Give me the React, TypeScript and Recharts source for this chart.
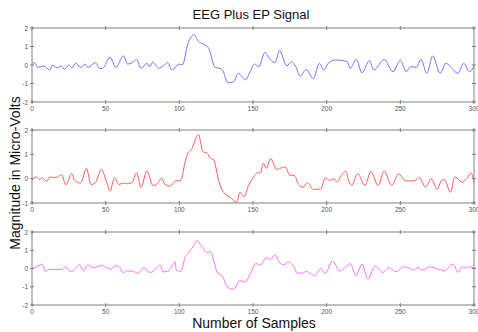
import React from 'react';
import { LineChart, Line, XAxis, YAxis } from 'recharts';

// sample positions and magnitudes
const blueX = [0, 2, 4, 8, 12, 14, 17, 20, 22, 25, 27, 30, 33, 36, 38, 43, 46, 48, 53, 57, 62, 65, 68, 71, 74, 78, 80, 82, 86, 89, 92, 95, 100, 102, 106, 110, 113, 116, 120, 124, 129, 133, 137, 140, 145, 148, 151, 154, 158, 162, 165, 168, 173, 176, 179, 182, 186, 191, 195, 198, 201, 206, 214, 216, 220, 224, 229, 232, 239, 245, 250, 254, 257, 261, 264, 268, 272, 277, 281, 284, 289, 293, 297, 300];
const blueY = [0.13, 0.1, -0.13, -0.05, -0.27, 0, -0.15, -0.05, -0.24, 0, -0.15, 0.1, -0.13, 0.05, -0.13, 0.13, -0.2, -0.18, 0.42, -0.13, 0.5, 0.05, 0.13, 0.3, -0.18, 0.09, -0.09, 0.15, -0.18, -0.05, 0.13, -0.27, 0.05, 0, 1.2, 1.64, 1.27, 1.15, 0.9, -0.1, -0.24, -0.96, -0.9, -0.45, -0.8, -0.36, 0.05, -0.09, 0.67, 0.27, 0.13, 0.78, -0.05, 0.18, -0.09, -0.6, -0.24, -0.73, 0.09, -0.27, 0.09, 0.27, 0.18, -0.18, 0.3, -0.42, 0.24, -0.27, 0.3, -0.36, 0.27, -0.36, -0.09, -0.13, 0.3, -0.45, 0.49, -0.45, 0.09, -0.09, -0.45, 0.09, -0.36, -0.05];

const redX = [0, 3, 5, 7, 10, 12, 16, 18, 20, 23, 27, 29, 33, 37, 40, 43, 47, 51, 53, 56, 59, 62, 65, 68, 71, 74, 78, 82, 85, 88, 90, 94, 97, 101, 104, 106, 108, 113, 116, 119, 121, 123, 127, 130, 134, 139, 141, 144, 147, 149, 153, 155, 157, 159, 162, 166, 170, 172, 175, 178, 181, 184, 187, 191, 196, 199, 202, 205, 207, 210, 213, 215, 217, 221, 226, 230, 235, 239, 244, 249, 251, 253, 256, 260, 263, 267, 271, 275, 278, 280, 284, 287, 292, 295, 298, 300];
const redY = [-0.04, 0.07, -0.04, 0.04, -0.11, 0.07, 0.04, 0.1, 0.17, -0.25, 0.21, -0.07, -0.18, 0.42, -0.24, -0.17, 0.38, -0.21, -0.51, 0.04, -0.24, -0.18, -0.21, -0.14, 0.24, -0.35, 0.32, -0.28, -0.21, 0.03, -0.21, -0.31, -0.1, -0.07, 0.7, 1.07, 1.18, 1.81, 1.11, 1.04, 0.83, 0.8, -0.14, -0.56, -0.74, -0.97, -0.56, -0.74, -0.28, -0.07, 0.24, 0.24, 0.63, 0.42, 0.83, 0.38, 0.46, 0.49, 0.14, 0.14, -0.24, -0.35, -0.17, -0.44, -0.42, 0.04, -0.07, 0, -0.14, 0.14, 0.31, -0.1, -0.28, 0.21, -0.28, 0.28, -0.28, 0.32, -0.28, 0.21, 0.07, -0.07, -0.1, -0.07, 0.04, -0.35, 0, -0.44, -0.07, -0.04, -0.56, 0.07, -0.14, 0, 0.24, -0.14];

const pinkX = [0, 2, 5, 7, 9, 12, 17, 20, 23, 25, 27, 32, 35, 38, 41, 44, 47, 51, 54, 56, 59, 62, 64, 69, 72, 76, 80, 82, 87, 89, 92, 94, 97, 98, 101, 104, 106, 109, 112, 115, 119, 121, 126, 129, 133, 137, 141, 145, 148, 152, 155, 159, 162, 165, 168, 171, 174, 178, 180, 184, 186, 189, 192, 196, 199, 204, 209, 213, 216, 220, 224, 228, 233, 238, 242, 247, 252, 256, 259, 262, 265, 270, 276, 280, 284, 286, 289, 292, 294, 296, 300];
const pinkY = [0.02, 0.05, 0.18, 0.24, -0.16, -0.05, -0.05, -0.05, 0.09, -0.09, -0.16, 0.2, -0.13, 0.2, 0.05, 0.09, 0.18, 0.02, -0.04, 0.15, 0.11, -0.24, -0.13, -0.16, -0.27, 0.05, -0.22, -0.16, 0.18, -0.18, -0.16, 0, 0.38, -0.09, -0.16, 0.64, 0.84, 1.15, 1.51, 1.24, 0.87, 0.93, -0.25, -0.4, -1.04, -1.13, -0.67, -0.73, -0.31, 0.27, 0.18, 0.6, 0.51, 0.75, 0.33, 0.2, 0.36, 0.05, -0.25, -0.25, -0.16, -0.27, -0.4, 0, -0.27, 0.42, -0.13, 0.09, 0.27, -0.4, 0.24, -0.58, 0.15, -0.22, 0.05, -0.18, 0.09, 0.02, -0.09, 0.05, -0.09, 0.09, -0.04, -0.13, 0.18, 0.24, -0.22, 0.09, 0.02, 0.09, 0.05];

const xTicks = [0, 50, 100, 150, 200, 250, 300];

const toRows = (xs, ys) => xs.map((s, i) => ({ s, v: ys[i] }));

const BOX = '#808080';
const FONT = '"Liberation Sans", Arial, sans-serif';

// MATLAB-ish ticks: short marks pointing into the plot box
const BottomTick = ({ x, y, payload }) => (
  <g>
    <line x1={x} y1={y} x2={x} y2={y - 4} stroke={BOX} />
    <text x={x} y={y + 7} textAnchor="middle" fontSize={6.5} fill="#555" fontFamily={FONT}>{payload.value}</text>
  </g>
);
const TopTick = ({ x, y }) => <line x1={x} y1={y} x2={x} y2={y + 4} stroke={BOX} />;
const LeftTick = ({ x, y, payload }) => (
  <g>
    <line x1={x} y1={y} x2={x + 4} y2={y} stroke={BOX} />
    <text x={x - 2} y={y + 2.5} textAnchor="end" fontSize={6.5} fill="#555" fontFamily={FONT}>{payload.value}</text>
  </g>
);
const RightTick = ({ x, y }) => <line x1={x} y1={y} x2={x - 4} y2={y} stroke={BOX} />;

// top/right axes need a 1px box or recharts skips them
const Panel = ({ top, marginTop, height, data, color, yDomain, yTicks }) => (
  <div style={{ position: 'absolute', left: 0, top }}>
    <LineChart width={478} height={height} data={data} margin={{ top: marginTop - 1, right: 3, bottom: 0, left: 0 }}>
      <XAxis dataKey="s" type="number" domain={[0, 300]} ticks={xTicks} height={14} tickSize={0} stroke={BOX} tick={BottomTick} interval={0} />
      <XAxis xAxisId="t" orientation="top" dataKey="s" type="number" domain={[0, 300]} ticks={xTicks} height={1} tickSize={0} stroke={BOX} tick={TopTick} interval={0} />
      <YAxis type="number" domain={yDomain} ticks={yTicks} width={32} tickSize={0} stroke={BOX} tick={LeftTick} interval={0} allowDataOverflow />
      <YAxis yAxisId="r" orientation="right" type="number" domain={yDomain} ticks={yTicks} width={1} tickSize={0} stroke={BOX} tick={RightTick} interval={0} allowDataOverflow />
      {/* invisible copy so the top / right frame axes have a series */}
      <Line xAxisId="t" yAxisId="r" type="linear" dataKey="v" stroke="none" dot={false} isAnimationActive={false} />
      <Line type="monotone" dataKey="v" stroke={color} strokeWidth={1} dot={false} isAnimationActive={false} />
    </LineChart>
  </div>
);

export default function App() {
  return (
    <div style={{ position: 'absolute', left: 0, top: 0, width: 478, height: 332, background: '#fff' }}>
      <Panel top={20} marginTop={8} height={96} data={toRows(blueX, blueY)} color="#7373ff" yDomain={[-2, 2]} yTicks={[-2, -1, 0, 1, 2]} />
      <Panel top={120} marginTop={10} height={97} data={toRows(redX, redY)} color="#ff5c5c" yDomain={[-1, 2]} yTicks={[-1, 0, 1, 2]} />
      <Panel top={222} marginTop={10} height={97} data={toRows(pinkX, pinkY)} color="#ff6eff" yDomain={[-2, 2]} yTicks={[-2, -1, 0, 1, 2]} />
      <svg width={478} height={332} style={{ position: 'absolute', left: 0, top: 0, pointerEvents: 'none' }}>
        <text x={251} y={19} textAnchor="middle" fontSize={13} fontFamily={FONT} fill="#111">EEG Plus EP Signal</text>
        <text transform="translate(20,173) rotate(-90)" textAnchor="middle" fontSize={14} fontFamily={FONT} fill="#111">Magnitude in Micro-Volts</text>
        <text x={254} y={328} textAnchor="middle" fontSize={14} fontFamily={FONT} fill="#111">Number of Samples</text>
      </svg>
    </div>
  );
}
